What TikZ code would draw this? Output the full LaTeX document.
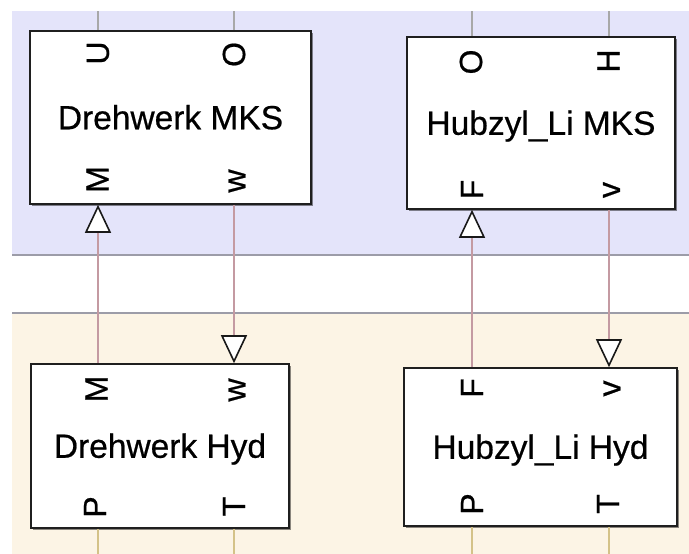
\documentclass[tikz,border=0pt]{standalone}
\usepackage{fontspec}
\setmainfont{Liberation Sans}
\usetikzlibrary{arrows.meta,shadows}
\definecolor{mksbg}{HTML}{E4E4FA}
\definecolor{hydbg}{HTML}{FCF4E5}
\definecolor{regline}{HTML}{9C9CA8}
\definecolor{physline}{HTML}{C49AA2}
\definecolor{sigline}{HTML}{A8A8A8}
\definecolor{hydline}{HTML}{D4C288}
\newfontfamily\blockfont[FakeBold=0.6]{Liberation Sans}
\tikzset{
  block/.style={draw=black!88, line width=1.6pt, fill=white, inner sep=0pt,
    text height=23.5pt, text depth=0pt,
    font=\blockfont\fontsize{33.5}{40}\selectfont,
    drop shadow={shadow xshift=1.6pt, shadow yshift=-1.6pt, opacity=0.45, fill=black}},
  portlabel/.style={rotate=90, inner sep=0pt, font=\blockfont\fontsize{32}{38}\selectfont},
  conn/.style={physline, line width=1.3pt},
  tri/.style={-{Triangle[length=28pt, width=26pt, fill=white, color=black!90, line width=1.6pt]}},
  sigwire/.style={sigline, line width=1.3pt},
  hydwire/.style={hydline, line width=1.3pt}
}
\begin{document}
\begin{tikzpicture}[x=1pt, y=-1pt]
  \useasboundingbox (0,0) rectangle (689,554);
  \fill[white] (0,0) rectangle (689,554);

  % domain regions
  \fill[mksbg] (12,11) rectangle (689,255);
  \draw[regline, line width=1.5pt] (12,255) -- (689,255);
  \fill[hydbg] (12,313) rectangle (689,554);
  \draw[regline, line width=1.5pt] (12,313) -- (689,313);

  % blocks
  \node[block, minimum width=281pt, minimum height=173pt] (A) at (170.5,117.5) {Drehwerk MKS};
  \node[block, minimum width=268pt, minimum height=172pt] (B) at (541,123) {Hubzyl\_Li MKS};
  \node[block, minimum width=258pt, minimum height=164pt] (C) at (160,446) {Drehwerk Hyd};
  \node[block, minimum width=273pt, minimum height=158pt] (D) at (540.5,447) {Hubzyl\_Li Hyd};

  % port positions on the block edges
  \coordinate (A-U) at (98,0 |- A.north);
  \coordinate (A-O) at (234,0 |- A.north);
  \coordinate (A-M) at (98,0 |- A.south);
  \coordinate (A-w) at (234,0 |- A.south);
  \coordinate (B-O) at (472,0 |- B.north);
  \coordinate (B-H) at (609,0 |- B.north);
  \coordinate (B-F) at (472,0 |- B.south);
  \coordinate (B-v) at (609,0 |- B.south);
  \coordinate (C-M) at (98,0 |- C.north);
  \coordinate (C-w) at (234,0 |- C.north);
  \coordinate (C-P) at (98,0 |- C.south);
  \coordinate (C-T) at (234,0 |- C.south);
  \coordinate (D-F) at (472,0 |- D.north);
  \coordinate (D-v) at (609,0 |- D.north);
  \coordinate (D-P) at (472,0 |- D.south);
  \coordinate (D-T) at (609,0 |- D.south);

  % free wire ends
  \coordinate (inU) at (98,11);
  \coordinate (inO) at (234,11);
  \coordinate (inO2) at (472,11);
  \coordinate (inH) at (609,11);
  \coordinate (outP) at (98,554);
  \coordinate (outT) at (234,554);
  \coordinate (outP2) at (472,554);
  \coordinate (outT2) at (609,554);

  % incoming signal wires
  \draw[sigwire] (inU) -- (A-U);
  \draw[sigwire] (inO) -- (A-O);
  \draw[sigwire] (inO2) -- (B-O);
  \draw[sigwire] (inH) -- (B-H);

  % hydraulic lines
  \draw[hydwire] (C-P) -- (outP);
  \draw[hydwire] (C-T) -- (outT);
  \draw[hydwire] (D-P) -- (outP2);
  \draw[hydwire] (D-T) -- (outT2);

  % coupling between hydraulic and mechanical models
  \draw[conn, tri] (C-M) -- (A-M);
  \draw[conn, tri] (A-w) -- (C-w);
  \draw[conn, tri] (D-F) -- (B-F);
  \draw[conn, tri] (B-v) -- (D-v);

  % port labels
  \node[portlabel] (lAU) at (98,53) {U};
  \node[portlabel] (lAO) at (234,54.5) {O};
  \node[portlabel] (lAM) at (97.5,179.5) {M};
  \node[portlabel] (lAw) at (237,181) {w};
  \node[portlabel] (lBO) at (471,62) {O};
  \node[portlabel] (lBH) at (608.5,61) {H};
  \node[portlabel] (lBF) at (472,189.5) {F};
  \node[portlabel] (lBv) at (611.5,190) {v};
  \node[portlabel] (lCM) at (96.5,389) {M};
  \node[portlabel] (lCw) at (237,390) {w};
  \node[portlabel] (lCP) at (95,507) {P};
  \node[portlabel] (lCT) at (234,506.5) {T};
  \node[portlabel] (lDF) at (472,388) {F};
  \node[portlabel] (lDv) at (612,388.5) {v};
  \node[portlabel] (lDP) at (472,504) {P};
  \node[portlabel] (lDT) at (608,504) {T};
\end{tikzpicture}
\end{document}
